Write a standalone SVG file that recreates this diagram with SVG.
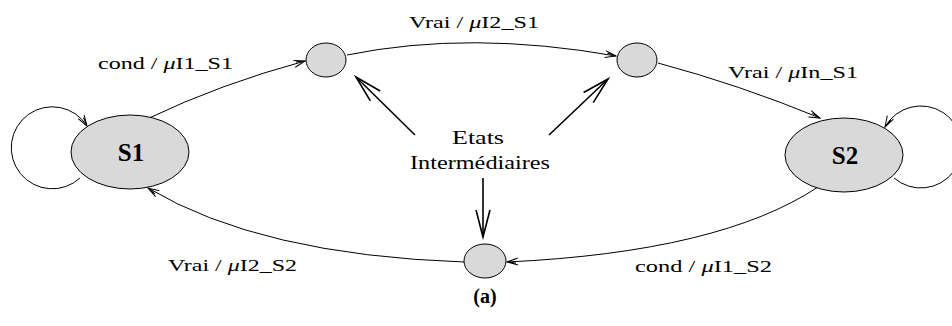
<svg xmlns="http://www.w3.org/2000/svg" width="952" height="326" viewBox="0 0 952 326">
<style>
.st{fill:#d9d9d9;stroke:#000;stroke-width:1}
.lbl{font-family:"Liberation Serif","DejaVu Serif",serif;font-size:17px;fill:#000}
.big{font-family:"Liberation Serif","DejaVu Serif",serif;font-size:25px;font-weight:bold;fill:#000}
.mu{font-style:italic}
.e{fill:none;stroke:#000;stroke-width:1}
.b{fill:none;stroke:#000;stroke-width:1.6}
</style>
<defs>
<marker id="ah" markerUnits="userSpaceOnUse" markerWidth="14" markerHeight="10" refX="12" refY="5" orient="auto" overflow="visible">
<path d="M1,1.5 L12,5 L1,8.5 M3,3.5 L12,5" fill="none" stroke="#000" stroke-width="1"/>
</marker>
<marker id="bh" markerUnits="userSpaceOnUse" markerWidth="30" markerHeight="18" refX="28" refY="9" orient="auto" overflow="visible">
<path d="M1,2 L28,9 L1,16" fill="none" stroke="#000" stroke-width="1.6"/>
</marker>
</defs>
<g id="connectors">
<path class="e" d="M80,178 A41,41 0 1 1 87,126" marker-end="url(#ah)"/>
<path class="e" d="M894,178 A41,41 0 1 0 885,127" marker-end="url(#ah)"/>
<path class="e" d="M147,119 Q220,84 305,61" marker-end="url(#ah)"/>
<path class="e" d="M347,55 Q470,30 616,56" marker-end="url(#ah)"/>
<path class="e" d="M658,63 Q740,85 820,118" marker-end="url(#ah)"/>
<path class="e" d="M818,187 Q720,252 507,262" marker-end="url(#ah)"/>
<path class="e" d="M464,262 Q260,255 148,188" marker-end="url(#ah)"/>
<path class="b" d="M415,135 L356,77" marker-end="url(#bh)"/>
<path class="b" d="M549,135 L608,79" marker-end="url(#bh)"/>
<path class="b" d="M483,178 L483,237" marker-end="url(#bh)"/>
</g>
<g id="S1">
<ellipse class="st" cx="130" cy="152" rx="59" ry="37"/>
<text class="big" x="131" y="161" text-anchor="middle">S1</text>
</g>
<g id="S2">
<ellipse class="st" cx="844" cy="155" rx="59" ry="37"/>
<text class="big" x="845" y="164" text-anchor="middle">S2</text>
</g>
<g id="I1">
<ellipse class="st" cx="326" cy="60" rx="20" ry="17"/>
</g>
<g id="I2">
<ellipse class="st" cx="637" cy="60" rx="20" ry="17"/>
</g>
<g id="I3">
<ellipse class="st" cx="485" cy="261" rx="21" ry="17"/>
</g>
<g id="labels">
<text class="lbl" x="98" y="69" textLength="135" lengthAdjust="spacingAndGlyphs">cond / <tspan class="mu">μ</tspan>I1_S1</text>
<text class="lbl" x="409" y="28" textLength="130" lengthAdjust="spacingAndGlyphs">Vrai / <tspan class="mu">μ</tspan>I2_S1</text>
<text class="lbl" x="728" y="78" textLength="130" lengthAdjust="spacingAndGlyphs">Vrai / <tspan class="mu">μ</tspan>In_S1</text>
<text class="lbl" x="168" y="271" textLength="129" lengthAdjust="spacingAndGlyphs">Vrai / <tspan class="mu">μ</tspan>I2_S2</text>
<text class="lbl" x="635" y="272" textLength="137" lengthAdjust="spacingAndGlyphs">cond / <tspan class="mu">μ</tspan>I1_S2</text>
</g>
<g id="Etats">
<text class="lbl" x="452" y="144" textLength="52" lengthAdjust="spacingAndGlyphs" style="font-size:18px">Etats</text>
<text class="lbl" x="410" y="169" textLength="140" lengthAdjust="spacingAndGlyphs" style="font-size:18px">Intermédiaires</text>
</g>
<text class="lbl" x="485" y="303" text-anchor="middle" style="font-size:20px;font-weight:bold">(a)</text>
</svg>
